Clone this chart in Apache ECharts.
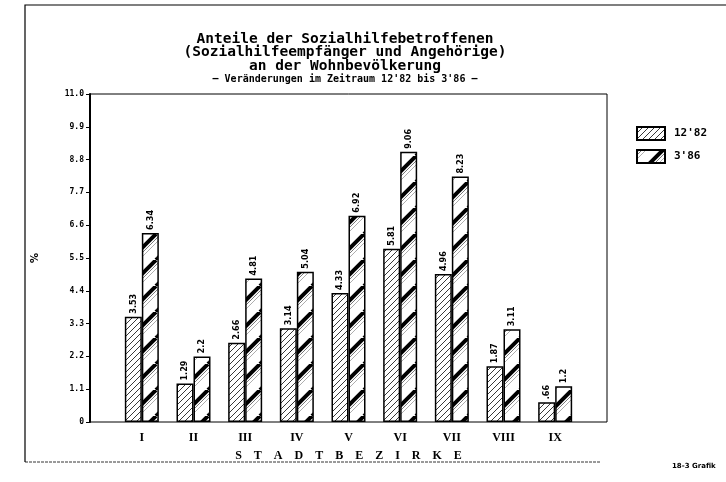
<!DOCTYPE html>
<html>
<head>
<meta charset="utf-8">
<script src="https://cdn.jsdelivr.net/npm/echarts@6/dist/echarts.min.js"></script>
<style>
  html, body { margin: 0; padding: 0; background: #fff; }
  #chart { width: 726px; height: 482px; }
</style>
</head>
<body>
<div id="chart"></div>
<script>
// Daten
const bezirke = ['I', 'II', 'III', 'IV', 'V', 'VI', 'VII', 'VIII', 'IX'];
const werte1282 = [3.53, 1.29, 2.66, 3.14, 4.33, 5.81, 4.96, 1.87, 0.66];
const werte386 = [6.34, 2.2, 4.81, 5.04, 6.92, 9.06, 8.23, 3.11, 1.2];
const labels1282 = ['3.53', '1.29', '2.66', '3.14', '4.33', '5.81', '4.96', '1.87', '.66'];
const labels386 = ['6.34', '2.2', '4.81', '5.04', '6.92', '9.06', '8.23', '3.11', '1.2'];
const yTicks = ['0', '1.1', '2.2', '3.3', '4.4', '5.5', '6.6', '7.7', '8.8', '9.9', '11.0'];

// Schraffur-Muster
function hatchThin() {
  const s = 6;
  const c = document.createElement('canvas');
  c.width = s; c.height = s;
  const ctx = c.getContext('2d');
  ctx.fillStyle = '#fff';
  ctx.fillRect(0, 0, s, s);
  ctx.strokeStyle = '#222';
  ctx.lineWidth = 0.9;
  [-s, 0, s].forEach(o => {
    ctx.beginPath();
    ctx.moveTo(o, s);
    ctx.lineTo(o + s, 0);
    ctx.stroke();
  });
  return c;
}

function hatchThick() {
  const s = 26;
  const c = document.createElement('canvas');
  c.width = s; c.height = s;
  const ctx = c.getContext('2d');
  ctx.fillStyle = '#fff';
  ctx.fillRect(0, 0, s, s);
  [-s, 0, s].forEach(o => {
    // dicker Balken
    ctx.strokeStyle = '#000';
    ctx.lineWidth = 4;
    ctx.beginPath();
    ctx.moveTo(o, s);
    ctx.lineTo(o + s, 0);
    ctx.stroke();
    // feine Linien daneben
    ctx.strokeStyle = '#555';
    ctx.lineWidth = 0.8;
    ctx.beginPath();
    ctx.moveTo(o + 5, s);
    ctx.lineTo(o + s + 5, 0);
    ctx.stroke();
    ctx.strokeStyle = '#999';
    ctx.beginPath();
    ctx.moveTo(o + 9, s);
    ctx.lineTo(o + s + 9, 0);
    ctx.stroke();
  });
  return c;
}

const fill1 = { image: hatchThin(), repeat: 'repeat' };
const fill2 = { image: hatchThick(), repeat: 'repeat' };

const chart = echarts.init(document.getElementById('chart'));

const labelStyle = {
  show: true,
  position: 'top',
  rotate: 90,
  align: 'left',
  verticalAlign: 'middle',
  distance: 3,
  fontFamily: 'DejaVu Sans Condensed',
  fontWeight: 'bold',
  fontSize: 9,
  color: '#000'
};

const option = {
  backgroundColor: '#fff',
  animation: false,
  title: {
    text: 'Anteile der Sozialhilfebetroffenen\n(Sozialhilfeempfänger und Angehörige)\nan der Wohnbevölkerung',
    subtext: '– Veränderungen im Zeitraum 12\'82 bis 3\'86 –',
    left: 340,
    top: 27,
    textAlign: 'center',
    itemGap: 0,
    textStyle: {
      fontFamily: 'DejaVu Sans Mono',
      fontWeight: 'bold',
      fontSize: 14.5,
      lineHeight: 13.5,
      color: '#000'
    },
    subtextStyle: {
      fontFamily: 'DejaVu Sans Mono',
      fontWeight: 'bold',
      fontSize: 10,
      lineHeight: 11,
      color: '#000'
    }
  },
  legend: {
    orient: 'vertical',
    left: 631,
    top: 121,
    icon: 'rect',
    itemWidth: 28,
    itemHeight: 13,
    itemGap: 8,
    textStyle: {
      fontFamily: 'DejaVu Sans Mono',
      fontWeight: 'bold',
      fontSize: 11,
      color: '#000',
      padding: [0, 0, 0, 4]
    },
    data: ['12\'82', '3\'86']
  },
  grid: {
    left: 116,
    right: 145,
    top: 94,
    bottom: 60
  },
  xAxis: {
    type: 'category',
    data: bezirke,
    axisLine: { show: false },
    axisTick: { show: false },
    axisLabel: {
      margin: 10,
      fontFamily: 'Liberation Serif',
      fontWeight: 'bold',
      fontSize: 12,
      color: '#000'
    },
    name: 'S    T    A    D    T    B    E    Z    I    R    K    E',
    nameLocation: 'middle',
    nameGap: 28,
    nameTextStyle: {
      fontFamily: 'Liberation Serif',
      fontWeight: 'bold',
      fontSize: 12,
      color: '#000'
    }
  },
  yAxis: {
    type: 'value',
    min: 0,
    max: 11,
    interval: 1.1,
    offset: 26,
    name: '%',
    nameLocation: 'middle',
    nameGap: 50,
    nameRotate: 90,
    nameTextStyle: {
      fontFamily: 'DejaVu Sans',
      fontWeight: 'bold',
      fontSize: 10,
      color: '#000'
    },
    axisLine: { show: true, lineStyle: { color: '#000', width: 2 } },
    axisTick: { show: true, length: 4, lineStyle: { color: '#000' } },
    splitLine: { show: false },
    axisLabel: {
      margin: 6,
      fontFamily: 'DejaVu Sans Mono',
      fontWeight: 'bold',
      fontSize: 8,
      color: '#000',
      formatter: (v, i) => yTicks[i]
    }
  },
  graphic: [
    // Diagrammrahmen
    {
      type: 'rect',
      shape: { x: 90, y: 94, width: 517, height: 328 },
      style: { fill: 'none', stroke: '#000', lineWidth: 1 },
      silent: true
    },
    // Blattrahmen
    {
      type: 'polyline',
      shape: { points: [[726, 5], [25, 5], [25, 462]] },
      style: { fill: 'none', stroke: '#000', lineWidth: 1.2 },
      silent: true
    },
    {
      type: 'line',
      shape: { x1: 25, y1: 462, x2: 600, y2: 462 },
      style: { stroke: '#000', lineWidth: 0.8, lineDash: [3, 1] },
      silent: true
    },
    {
      type: 'text',
      left: 672,
      top: 463,
      style: {
        text: '18-3 Grafik',
        fontFamily: 'DejaVu Sans',
        fontWeight: 'bold',
        fontSize: 7,
        fill: '#000'
      }
    }
  ],
  series: [
    {
      name: '12\'82',
      type: 'bar',
      barWidth: 17,
      barGap: '0%',
      data: werte1282,
      itemStyle: { color: fill1, borderColor: '#000', borderWidth: 1.5 },
      label: Object.assign({}, labelStyle, {
        formatter: p => labels1282[p.dataIndex]
      })
    },
    {
      name: '3\'86',
      type: 'bar',
      barWidth: 17,
      barGap: '0%',
      data: werte386,
      itemStyle: { color: fill2, borderColor: '#000', borderWidth: 1.5 },
      label: Object.assign({}, labelStyle, {
        formatter: p => labels386[p.dataIndex]
      })
    }
  ]
};

chart.setOption(option);

window.addEventListener('resize', () => {
  chart.resize();
});
</script>
</body>
</html>
